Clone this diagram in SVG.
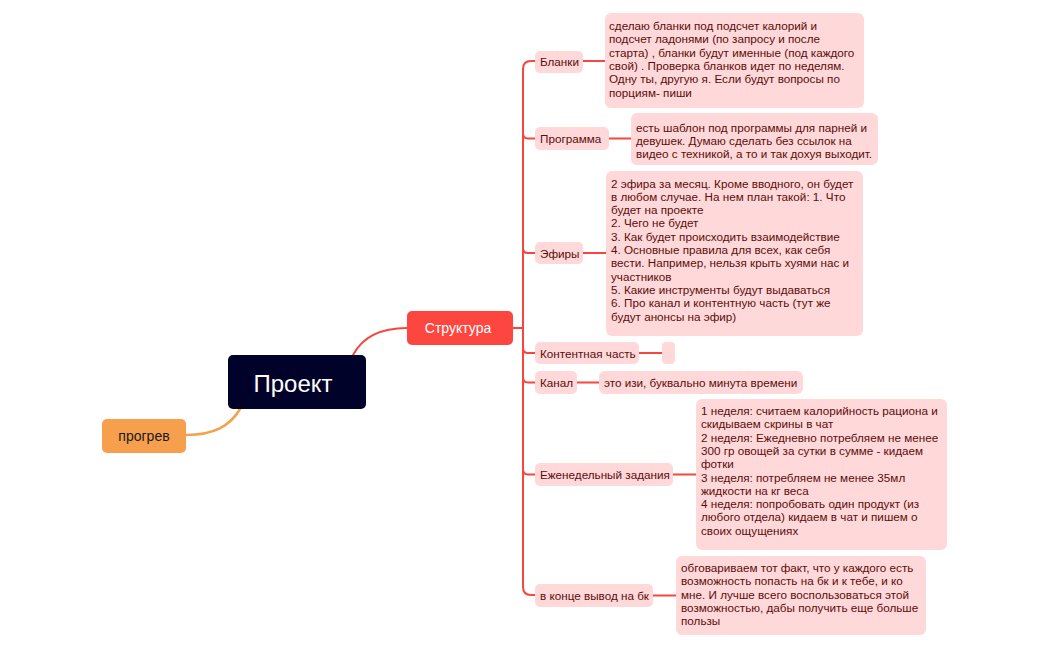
<svg xmlns="http://www.w3.org/2000/svg" width="1049" height="650" viewBox="0 0 1049 650">
<style>
.bg{fill:#ffffff}
.ln{fill:none;stroke:#f5463f;stroke-width:2;stroke-linecap:round}
.lo{fill:none;stroke:#f6a04d;stroke-width:2.5;stroke-linecap:round}
.pk{fill:#ffd9d9}
.t{font-family:"Liberation Sans",Arial,sans-serif;font-size:11.7px;fill:#5c0c0c}
</style>
<rect class="bg" x="0" y="0" width="1049" height="650"/>
<g id="connectors">
<path class="lo" d="M186 435 C214 435 230 426 240 409"/>
<path class="ln" d="M353 355 C362 338 378 328 407 328"/>
<path class="ln" d="M513 328 H523"/>
<path class="ln" d="M523 328 V69 Q523 61 531 61 H535"/>
<path class="ln" d="M523 328 V587 Q523 595 531 595 H535"/>
<path class="ln" d="M523 133 Q523 138.5 528 138.5 H535"/>
<path class="ln" d="M523 248 Q523 253 528 253 H535"/>
<path class="ln" d="M523 348 Q523 353 528 353 H535"/>
<path class="ln" d="M523 377 Q523 382.5 528 382.5 H535"/>
<path class="ln" d="M523 469 Q523 474.5 528 474.5 H535"/>
<path class="ln" d="M583 61 H605"/>
<path class="ln" d="M609 138.5 H631"/>
<path class="ln" d="M583 253 H606"/>
<path class="ln" d="M639 353 H662"/>
<path class="ln" d="M577 382.5 H599"/>
<path class="ln" d="M673 474.5 H696"/>
<path class="ln" d="M653 595.5 H676"/>
</g>
<g id="node-project">
<rect x="228" y="355" width="138" height="54" rx="5" fill="#000229"/>
<text x="293" y="392" text-anchor="middle" font-family="Liberation Sans,Arial,sans-serif" font-size="24" fill="#ffffff">Проект</text>
</g>
<g id="node-progrev">
<rect x="102" y="419" width="84" height="34" rx="5" fill="#f6a04d"/>
<text x="144" y="441" text-anchor="middle" font-family="Liberation Sans,Arial,sans-serif" font-size="14" fill="#1a1a1a">прогрев</text>
</g>
<g id="node-struktura">
<rect x="407" y="311" width="106" height="34" rx="5" fill="#fd4640"/>
<text x="458" y="333" text-anchor="middle" font-family="Liberation Sans,Arial,sans-serif" font-size="14" fill="#ffffff">Структура</text>
</g>
<g id="node-blanki">
<rect class="pk" x="535" y="51" width="48" height="22" rx="5"/>
<text class="t" x="540" y="66">Бланки</text>
</g>
<g id="note-blanki">
<rect class="pk" x="605" y="13" width="259" height="95" rx="6"/>
<text class="t" x="609"><tspan x="609" y="30">сделаю бланки под подсчет калорий и</tspan><tspan x="609" y="43.3">подсчет ладонями (по запросу и после</tspan><tspan x="609" y="56.6">старта) , бланки будут именные (под каждого</tspan><tspan x="609" y="69.9">свой) . Проверка бланков идет по неделям.</tspan><tspan x="609" y="83.2">Одну ты, другую я. Если будут вопросы по</tspan><tspan x="609" y="96.5">порциям- пиши</tspan></text>
</g>
<g id="node-programma">
<rect class="pk" x="535" y="127" width="74" height="23" rx="5"/>
<text class="t" x="540" y="143">Программа</text>
</g>
<g id="note-programma">
<rect class="pk" x="631" y="113" width="247" height="52" rx="6"/>
<text class="t"><tspan x="636" y="131.5">есть шаблон под программы для парней и</tspan><tspan x="636" y="144.8">девушек. Думаю сделать без ссылок на</tspan><tspan x="636" y="158.1">видео с техникой, а то и так дохуя выходит.</tspan></text>
</g>
<g id="node-efiry">
<rect class="pk" x="535" y="242" width="48" height="22" rx="5"/>
<text class="t" x="540" y="257.5">Эфиры</text>
</g>
<g id="note-efiry">
<rect class="pk" x="606" y="171" width="257" height="165" rx="6"/>
<text class="t"><tspan x="611" y="187.5">2 эфира за месяц. Кроме вводного, он будет</tspan><tspan x="611" y="200.8">в любом случае. На нем план такой: 1. Что</tspan><tspan x="611" y="214.1">будет на проекте</tspan><tspan x="611" y="227.4">2. Чего не будет</tspan><tspan x="611" y="240.7">3. Как будет происходить взаимодействие</tspan><tspan x="611" y="254">4. Основные правила для всех, как себя</tspan><tspan x="611" y="267.3">вести. Например, нельзя крыть хуями нас и</tspan><tspan x="611" y="280.6">участников</tspan><tspan x="611" y="293.9">5. Какие инструменты будут выдаваться</tspan><tspan x="611" y="307.2">6. Про канал и контентную часть (тут же</tspan><tspan x="611" y="320.5">будут анонсы на эфир)</tspan></text>
</g>
<g id="node-kontent">
<rect class="pk" x="535" y="342" width="104" height="22" rx="5"/>
<text class="t" x="540" y="357.5">Контентная часть</text>
</g>
<g id="note-kontent">
<rect class="pk" x="662" y="342" width="13" height="22" rx="4"/>
</g>
<g id="node-kanal">
<rect class="pk" x="535" y="371" width="42" height="23" rx="5"/>
<text class="t" x="540" y="387">Канал</text>
</g>
<g id="note-kanal">
<rect class="pk" x="599" y="371" width="204" height="23" rx="6"/>
<text class="t" x="604" y="387">это изи, буквально минута времени</text>
</g>
<g id="node-zadaniya">
<rect class="pk" x="535" y="463" width="138" height="23" rx="5"/>
<text class="t" x="540" y="479">Еженедельный задания</text>
</g>
<g id="note-zadaniya">
<rect class="pk" x="696" y="399" width="251" height="151" rx="6"/>
<text class="t"><tspan x="701" y="415">1 неделя: считаем калорийность рациона и</tspan><tspan x="701" y="428.3">скидываем скрины в чат</tspan><tspan x="701" y="441.6">2 неделя: Ежедневно потребляем не менее</tspan><tspan x="701" y="454.9">300 гр овощей за сутки в сумме - кидаем</tspan><tspan x="701" y="468.2">фотки</tspan><tspan x="701" y="481.5">3 неделя: потребляем не менее 35мл</tspan><tspan x="701" y="494.8">жидкости на кг веса</tspan><tspan x="701" y="508.1">4 неделя: попробовать один продукт (из</tspan><tspan x="701" y="521.4">любого отдела) кидаем в чат и пишем о</tspan><tspan x="701" y="534.7">своих ощущениях</tspan></text>
</g>
<g id="node-vyvod">
<rect class="pk" x="535" y="584" width="118" height="23" rx="5"/>
<text class="t" x="540" y="600">в конце вывод на бк</text>
</g>
<g id="note-vyvod">
<rect class="pk" x="676" y="556" width="250" height="79" rx="6"/>
<text class="t"><tspan x="681" y="572">обговариваем тот факт, что у каждого есть</tspan><tspan x="681" y="585.3">возможность попасть на бк и к тебе, и ко</tspan><tspan x="681" y="598.6">мне. И лучше всего воспользоваться этой</tspan><tspan x="681" y="611.9">возможностью, дабы получить еще больше</tspan><tspan x="681" y="625.2">пользы</tspan></text>
</g>
</svg>
